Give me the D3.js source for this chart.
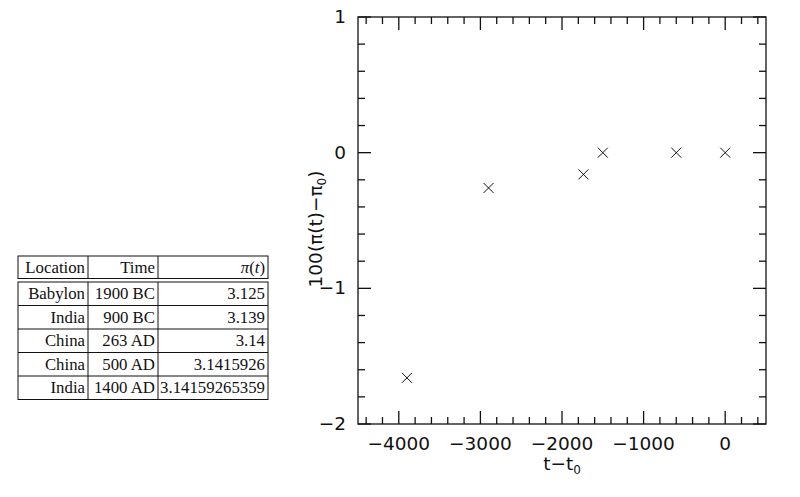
<!DOCTYPE html>
<html>
<head>
<meta charset="utf-8">
<script src="https://cdn.jsdelivr.net/npm/d3@7"></script>
<style>
  body { margin: 0; background: #fff; }
  svg text { fill: #111; }
</style>
</head>
<body>
<svg id="chart" width="800" height="497"></svg>
<script>
// table data
const headers = ["Location", "Time", "\u03c0(t)"];
const locations = ["Babylon", "India", "China", "China", "India"];
const times = ["1900 BC", "900 BC", "263 AD", "500 AD", "1400 AD"];
const piValues = ["3.125", "3.139", "3.14", "3.1415926", "3.14159265359"];

// scatter data (t - t0, 100*(pi(t) - pi0))
const tDiff = [-3900, -2900, -1737, -1500, -600, 0];
const piDiff = [-1.66, -0.26, -0.16, 0, 0, 0];

const xTicks = [-4000, -3000, -2000, -1000, 0];
const yTicks = [-2, -1, 0, 1];

const svg = d3.select("#chart");
const minus = "\u2212";

// ---- table ----
const colX = [18, 88, 158, 268];
const headTop = 256, headBot = 278.5;
const bodyTop = 282, rowH = 23.5;
const tbl = svg.append("g").attr("font-family", "Liberation Serif, serif").attr("font-size", 16.8);

tbl.append("rect").attr("x", colX[0]).attr("y", headTop).attr("width", colX[3] - colX[0]).attr("height", headBot - headTop)
  .attr("fill", "none").attr("stroke", "#111");
tbl.append("rect").attr("x", colX[0]).attr("y", bodyTop).attr("width", colX[3] - colX[0]).attr("height", rowH * locations.length)
  .attr("fill", "none").attr("stroke", "#111");
[1, 2].forEach(i => {
  tbl.append("line").attr("x1", colX[i]).attr("x2", colX[i]).attr("y1", headTop).attr("y2", headBot).attr("stroke", "#111");
  tbl.append("line").attr("x1", colX[i]).attr("x2", colX[i]).attr("y1", bodyTop).attr("y2", bodyTop + rowH * locations.length).attr("stroke", "#111");
});
d3.range(1, locations.length).forEach(i => {
  tbl.append("line").attr("x1", colX[0]).attr("x2", colX[3]).attr("y1", bodyTop + rowH * i).attr("y2", bodyTop + rowH * i).attr("stroke", "#111");
});

headers.forEach((h, i) => {
  const t = tbl.append("text").attr("x", colX[i + 1] - 3).attr("y", (headTop + headBot) / 2 + 5.5).attr("text-anchor", "end");
  if (i === 2) {
    t.append("tspan").attr("font-style", "italic").text("\u03c0");
    t.append("tspan").text("(");
    t.append("tspan").attr("font-style", "italic").text("t");
    t.append("tspan").text(")");
  } else {
    t.text(h);
  }
});

const rows = locations.map((d, i) => [d, times[i], piValues[i]]);
rows.forEach((r, j) => {
  r.forEach((c, i) => {
    tbl.append("text").attr("x", colX[i + 1] - 3).attr("y", bodyTop + rowH * j + rowH / 2 + 5.5)
      .attr("text-anchor", "end").text(c);
  });
});

// ---- plot ----
const pLeft = 358, pRight = 766, pTop = 17, pBottom = 424;
const x = d3.scaleLinear().domain([-4500, 500]).range([pLeft, pRight]);
const y = d3.scaleLinear().domain([-2, 1]).range([pBottom, pTop]);

const plot = svg.append("g").attr("stroke", "#111").attr("stroke-width", 1.3);
plot.append("rect").attr("x", pLeft).attr("y", pTop).attr("width", pRight - pLeft).attr("height", pBottom - pTop).attr("fill", "none");

const fmt = d => (d < 0 ? minus + Math.abs(d) : String(d));
const majorLen = 13, minorLen = 7;

// x ticks (inward, top and bottom)
const xMinor = d3.range(-4400, 500, 200).filter(v => !xTicks.includes(v));
function xTick(vals, len) {
  vals.forEach(v => {
    plot.append("line").attr("x1", x(v)).attr("x2", x(v)).attr("y1", pBottom).attr("y2", pBottom - len);
    plot.append("line").attr("x1", x(v)).attr("x2", x(v)).attr("y1", pTop).attr("y2", pTop + len);
  });
}
xTick(xTicks, majorLen);
xTick(xMinor, minorLen);

// y ticks (inward, left and right)
const yMinor = d3.range(-1.8, 1, 0.2).map(v => Math.round(v * 10) / 10).filter(v => !yTicks.includes(v));
function yTick(vals, len) {
  vals.forEach(v => {
    plot.append("line").attr("x1", pLeft).attr("x2", pLeft + len).attr("y1", y(v)).attr("y2", y(v));
    plot.append("line").attr("x1", pRight).attr("x2", pRight - len).attr("y1", y(v)).attr("y2", y(v));
  });
}
yTick(yTicks, majorLen);
yTick(yMinor, minorLen);

const labels = svg.append("g").attr("font-family", "DejaVu Sans, sans-serif").attr("font-size", 18.5);
labels.selectAll(".xl").data(xTicks).join("text")
  .attr("x", d => x(d)).attr("y", pBottom + 26).attr("text-anchor", "middle").text(fmt);
labels.selectAll(".yl").data(yTicks).join("text")
  .attr("x", pLeft - 12).attr("y", d => y(d) + 6).attr("text-anchor", "end").text(fmt);

// axis titles
const xt = labels.append("text").attr("x", x(-2000)).attr("y", pBottom + 46).attr("text-anchor", "middle");
xt.append("tspan").text("t" + minus + "t");
xt.append("tspan").attr("font-size", 12).attr("dy", 4).text("0");

const yt = labels.append("text").attr("transform", `translate(${pLeft - 36},229) rotate(-90)`).attr("text-anchor", "middle");
yt.append("tspan").text("100(\u03c0(t)" + minus + "\u03c0");
yt.append("tspan").attr("font-size", 12).attr("dy", 4).text("0");
yt.append("tspan").attr("dy", -4).text(")");

// markers
const pts = tDiff.map((d, i) => ({ t: d, v: piDiff[i] }));
const s = 5;
plot.selectAll(".mk").data(pts).join("path")
  .attr("d", d => {
    const cx = x(d.t), cy = y(d.v);
    return `M${cx - s},${cy - s}L${cx + s},${cy + s}M${cx - s},${cy + s}L${cx + s},${cy - s}`;
  })
  .attr("stroke-width", 1);
</script>
</body>
</html>
